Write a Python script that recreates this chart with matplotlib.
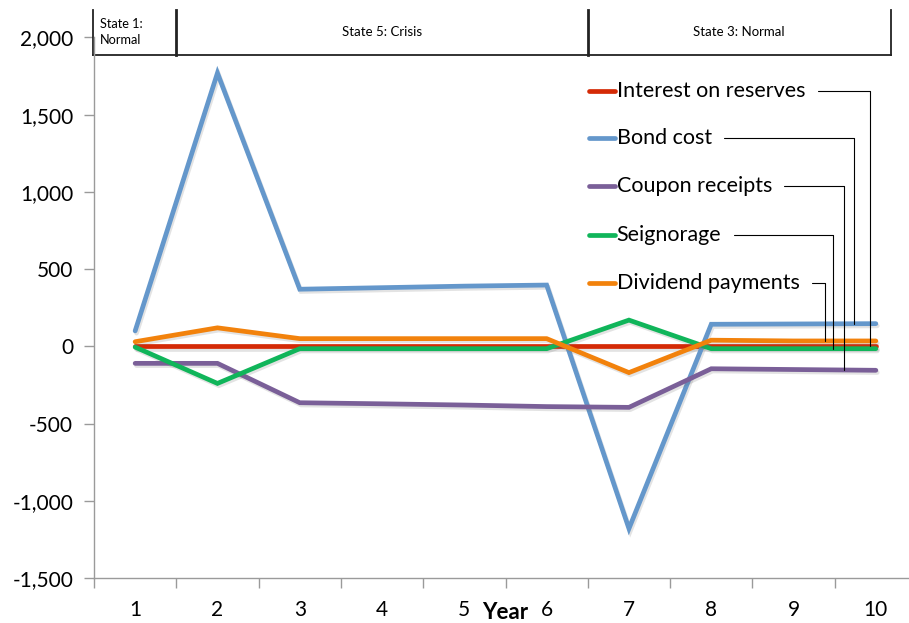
import numpy as np
import matplotlib
matplotlib.use("Agg")
import matplotlib.pyplot as plt
import matplotlib.patheffects as pe
import matplotlib.transforms as mtransforms
from matplotlib.ticker import FuncFormatter, MultipleLocator

plt.rcParams['font.family'] = ['Lato', 'DejaVu Sans']

years = np.arange(1, 11)
interest_on_reserves = [0, 0, 0, 0, 0, 0, 0, 0, 0, 0]
bond_cost = [100, 1770, 370, 380, 390, 397, -1180, 143, 145, 147]
coupon_receipts = [-110, -110, -365, -372, -380, -390, -395, -145, -150, -155]
seignorage = [-5, -240, -15, -15, -15, -15, 170, -15, -15, -15]
dividend_payments = [30, 120, 50, 50, 50, 50, -170, 40, 35, 35]

series_names = ["Interest on reserves", "Bond cost", "Coupon receipts",
                "Seignorage", "Dividend payments"]
series_values = [interest_on_reserves, bond_cost, coupon_receipts,
                 seignorage, dividend_payments]
series_colors = ["#d42a06", "#6497cb", "#7a5f98", "#10b55a", "#f2820c"]

# label rows (axes fraction) and where each leader line hits its series
label_y = [0.901, 0.814, 0.725, 0.635, 0.546]
leader_x = [9.93, 9.74, 9.61, 9.48, 9.38]

state_names = ["State 1:\nNormal", "State 5: Crisis", "State 3: Normal"]
state_edges = [0.49, 1.5, 6.5, 10.18]

fig = plt.figure(figsize=(9.09, 6.23), dpi=100)
ax = fig.add_axes([94 / 909, 45 / 623, 823 / 909, 540.5 / 623])

shadow = [pe.SimpleLineShadow(offset=(1.0, -1.6), shadow_color="#666666", alpha=0.18),
          pe.Normal()]
for name, vals, col in zip(series_names, series_values, series_colors):
    ax.plot(years, vals, color=col, lw=3.4, solid_capstyle="round",
            solid_joinstyle="miter", path_effects=shadow, label=name)

ax.set_xlim(0.5, 10.5)
ax.set_ylim(-1500, 2000)
ax.yaxis.set_major_locator(MultipleLocator(500))
ax.yaxis.set_major_formatter(FuncFormatter(lambda v, p: f"{v:,.0f}"))
ax.set_xticks(years)
ax.set_xticks(np.arange(0.5, 10.6, 1), minor=True)
ax.tick_params(axis="x", which="major", length=0, pad=16, labelsize=15)
ax.tick_params(axis="x", which="minor", length=7, color="#9a9a9a", width=1)
ax.tick_params(axis="y", length=7, color="#9a9a9a", width=1, labelsize=15, pad=8)

for s in ["top", "right"]:
    ax.spines[s].set_visible(False)
for s in ["left", "bottom"]:
    ax.spines[s].set_color("#9a9a9a")
    ax.spines[s].set_linewidth(1)

ax.set_xlabel("Year", fontsize=16, fontweight="bold", va="center")
ax.xaxis.set_label_coords(0.5, -0.063)

# custom legend with leader lines down to the series
for name, vals, col, ly, lx in zip(series_names, series_values, series_colors,
                                   label_y, leader_x):
    ax.plot([0.6013, 0.6329], [ly, ly], color=col, lw=3.4,
            transform=ax.transAxes, solid_capstyle="round")
    ax.annotate(name, xy=(lx, np.interp(lx, years, vals)),
                xytext=(0.635, ly), textcoords="axes fraction",
                fontsize=15.5, ha="left", va="center",
                arrowprops=dict(arrowstyle="-", color="black", lw=0.8,
                                shrinkA=7, shrinkB=0,
                                connectionstyle="angle,angleA=0,angleB=90,rad=0"))

# state band across the top
band = mtransforms.blended_transform_factory(ax.transData, ax.transAxes)
y_top, y_bot = 1.051, 0.9676
ax.plot([state_edges[0], state_edges[-1]], [y_bot, y_bot], color="#222222",
        lw=1.3, transform=band, clip_on=False)
for i, x in enumerate(state_edges):
    w = 2.0 if i in (1, 2) else 1.3
    ax.plot([x, x], [y_bot, y_top], color="#222222", lw=w,
            transform=band, clip_on=False)
ax.text(0.57, 1.010, state_names[0], transform=band, fontsize=9.2,
        ha="left", va="center", linespacing=1.35)
for i in (1, 2):
    xc = (state_edges[i] + state_edges[i + 1]) / 2
    ax.text(xc, 1.01, state_names[i], transform=band, fontsize=9.5,
            ha="center", va="center")

fig.savefig("out.png", dpi=100)
